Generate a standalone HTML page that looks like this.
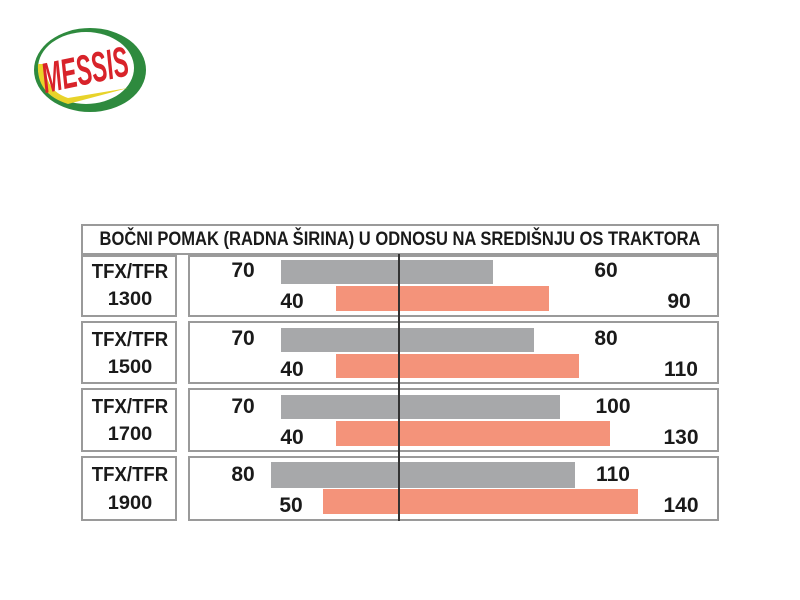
<!DOCTYPE html>
<html><head><meta charset="utf-8"><style>
body{margin:0;width:800px;height:600px;background:#fff;position:relative;overflow:hidden;font-family:"Liberation Sans",sans-serif;font-weight:bold;color:#1a1a1a}
.b{position:absolute;border:2px solid #9a9a9a;box-sizing:border-box;background:#fff}
.r{position:absolute}
.t{position:absolute;white-space:nowrap;transform:translateX(-50%) scaleX(1);font-size:21px;line-height:20px}
.g{background:#a7a8aa}.o{background:#f4937a}
.m{font-size:19px;transform:translateX(-50%) scaleX(1.05)}
.k{font-size:20px;transform:translateX(-50%) scaleX(0.93)}
</style></head><body>
<svg style="position:absolute;left:28px;top:24px" width="122" height="92" viewBox="0 0 122 92">
<ellipse cx="62" cy="46" rx="56" ry="42" fill="#2e8a3e"/>
<ellipse cx="58" cy="44" rx="48" ry="36" fill="#fff"/>
<path d="M10 40 Q8 70 40 80 L100 64 L40 74 Q16 66 18 40 Z" fill="#e8d32a"/>
<text x="0" y="0" text-anchor="middle" font-family="Liberation Sans" font-weight="bold" font-style="italic" font-size="34" fill="#d8232a" transform="translate(60 60) rotate(-12) scale(0.68 1.25)">MESSIS</text>
</svg>

<div class="b" style="left:81px;top:224px;width:638px;height:31px"></div>
<div class="t" style="left:400px;top:230px;font-size:19px;transform:translateX(-50%) scaleX(0.87)">BOČNI POMAK (RADNA ŠIRINA) U ODNOSU NA SREDIŠNJU OS TRAKTORA</div>

<div class="b" style="left:81px;top:255px;width:96px;height:62px"></div>
<div class="b" style="left:188px;top:255px;width:531px;height:62px"></div>
<div class="b" style="left:81px;top:321px;width:96px;height:63px"></div>
<div class="b" style="left:188px;top:321px;width:531px;height:63px"></div>
<div class="b" style="left:81px;top:388px;width:96px;height:64px"></div>
<div class="b" style="left:188px;top:388px;width:531px;height:64px"></div>
<div class="b" style="left:81px;top:456px;width:96px;height:65px"></div>
<div class="b" style="left:188px;top:456px;width:531px;height:65px"></div>

<div class="r g" style="left:281px;top:260px;width:212px;height:24px"></div>
<div class="r o" style="left:336px;top:286px;width:213px;height:25px"></div>
<div class="r g" style="left:281px;top:328px;width:253px;height:24px"></div>
<div class="r o" style="left:336px;top:354px;width:243px;height:24px"></div>
<div class="r g" style="left:281px;top:395px;width:279px;height:24px"></div>
<div class="r o" style="left:336px;top:421px;width:274px;height:25px"></div>
<div class="r g" style="left:271px;top:462px;width:304px;height:26px"></div>
<div class="r o" style="left:323px;top:489px;width:315px;height:25px"></div>
<div class="r" style="left:398px;top:254px;width:2px;height:267px;background:#333"></div>

<div class="t k" style="left:130px;top:262px">TFX/TFR</div><div class="t m" style="left:130px;top:290px">1300</div>
<div class="t k" style="left:130px;top:330px">TFX/TFR</div><div class="t m" style="left:130px;top:358px">1500</div>
<div class="t k" style="left:130px;top:397px">TFX/TFR</div><div class="t m" style="left:130px;top:425px">1700</div>
<div class="t k" style="left:130px;top:465px">TFX/TFR</div><div class="t m" style="left:130px;top:494px">1900</div>

<div class="t" style="left:243px;top:261px">70</div><div class="t" style="left:292px;top:292px">40</div>
<div class="t" style="left:606px;top:261px">60</div><div class="t" style="left:679px;top:292px">90</div>
<div class="t" style="left:243px;top:329px">70</div><div class="t" style="left:292px;top:360px">40</div>
<div class="t" style="left:606px;top:329px">80</div><div class="t" style="left:681px;top:360px">110</div>
<div class="t" style="left:243px;top:397px">70</div><div class="t" style="left:292px;top:428px">40</div>
<div class="t" style="left:613px;top:397px">100</div><div class="t" style="left:681px;top:428px">130</div>
<div class="t" style="left:243px;top:465px">80</div><div class="t" style="left:291px;top:496px">50</div>
<div class="t" style="left:613px;top:465px">110</div><div class="t" style="left:681px;top:496px">140</div>
</body></html>
